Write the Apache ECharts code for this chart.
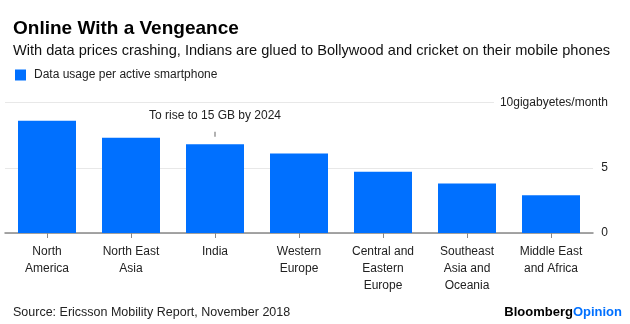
<!DOCTYPE html>
<html>
<head>
<meta charset="utf-8">
<script src="https://cdn.jsdelivr.net/npm/echarts@6/dist/echarts.min.js"></script>
<style>
html,body{margin:0;padding:0;background:#fff;}
#chart{width:630px;height:324px;}
</style>
</head>
<body>
<div id="chart"></div>
<script>
const categories = ["North America", "North East Asia", "India", "Western Europe", "Central and Eastern Europe", "Southeast Asia and Oceania", "Middle East and Africa"];
const tickLabels = ["North\nAmerica", "North East\nAsia", "India", "Western\nEurope", "Central and\nEastern\nEurope", "Southeast\nAsia and\nOceania", "Middle East\nand Africa"];
const dataUsage = [8.6, 7.3, 6.8, 6.1, 4.7, 3.8, 2.9];
const seriesName = "Data usage per active smartphone";
const annotationText = "To rise to 15 GB by 2024";
const annotatedCategory = "India";
const yTicks = [0, 5, 10];
const yUnit = "gigabyetes/month";

const FONT = "Liberation Sans";
const BLUE = "#0070ff";

const chart = echarts.init(document.getElementById('chart'), null, {renderer: 'canvas'});

const seriesData = dataUsage.map((v, i) => {
  if (categories[i] === annotatedCategory) {
    return {
      value: v,
      label: {
        show: true,
        position: 'top',
        distance: 7.5,
        formatter: '{a|' + annotationText + '}\n{b|}',
        rich: {
          a: {fontFamily: FONT, fontSize: 12, color: '#222', lineHeight: 32, height: 32},
          b: {width: 1, height: 5, lineHeight: 5, backgroundColor: '#666'}
        }
      }
    };
  }
  return v;
});

chart.setOption({
  animation: false,
  textStyle: {fontFamily: FONT},
  title: [
    {
      text: 'Online With a Vengeance',
      subtext: 'With data prices crashing, Indians are glued to Bollywood and cricket on their mobile phones',
      left: 8, top: 14,
      itemGap: 5,
      textStyle: {fontFamily: FONT, fontSize: 19, fontWeight: 'bold', color: '#000'},
      subtextStyle: {fontFamily: FONT, fontSize: 14.6, color: '#111'}
    },
    {
      text: 'Source: Ericsson Mobility Report, November 2018',
      left: 8, top: 301,
      textStyle: {fontFamily: FONT, fontSize: 12.5, fontWeight: 'normal', color: '#222'}
    },
    {
      text: '{a|Bloomberg}{b|Opinion}',
      right: 3, top: 301,
      textStyle: {
        fontFamily: FONT, fontSize: 13,
        rich: {
          a: {fontFamily: FONT, fontSize: 13, fontWeight: 'bold', color: '#000'},
          b: {fontFamily: FONT, fontSize: 13, fontWeight: 'bold', color: BLUE}
        }
      }
    }
  ],
  legend: {
    data: [seriesName],
    left: 10, top: 64,
    icon: 'rect',
    itemWidth: 11, itemHeight: 11,
    textStyle: {fontFamily: FONT, fontSize: 12, color: '#222', padding: [0, 0, 0, 3]}
  },
  grid: {left: 5, right: 37, top: 102.5, bottom: 91, containLabel: false},
  xAxis: {
    type: 'category',
    data: categories,
    axisLine: {lineStyle: {color: '#888', width: 1.5}},
    axisTick: {show: true, alignWithLabel: true, length: 5, lineStyle: {color: '#888', width: 1}},
    axisLabel: {
      interval: 0,
      margin: 10,
      fontFamily: FONT, fontSize: 12, lineHeight: 17, color: '#222',
      formatter: (v, i) => tickLabels[i]
    }
  },
  yAxis: {
    type: 'value',
    position: 'right',
    min: yTicks[0], max: yTicks[yTicks.length - 1], interval: yTicks[1] - yTicks[0],
    axisLine: {show: false},
    axisTick: {show: false},
    splitLine: {lineStyle: {color: '#e8e8e8', width: 1}},
    axisLabel: {
      align: 'right',
      margin: 15,
      fontFamily: FONT, fontSize: 12, color: '#222',
      formatter: (v) => v === yTicks[yTicks.length - 1] ? '{top|' + v + yUnit + '}' : '{n|' + v + '}',
      rich: {
        top: {fontFamily: FONT, fontSize: 12, color: '#222', backgroundColor: '#fff', padding: [3, 0, 3, 6]},
        n: {fontFamily: FONT, fontSize: 12, color: '#222'}
      }
    }
  },
  series: [{
    name: seriesName,
    type: 'bar',
    data: seriesData,
    barWidth: 58,
    itemStyle: {color: BLUE}
  }]
});
</script>
</body>
</html>
